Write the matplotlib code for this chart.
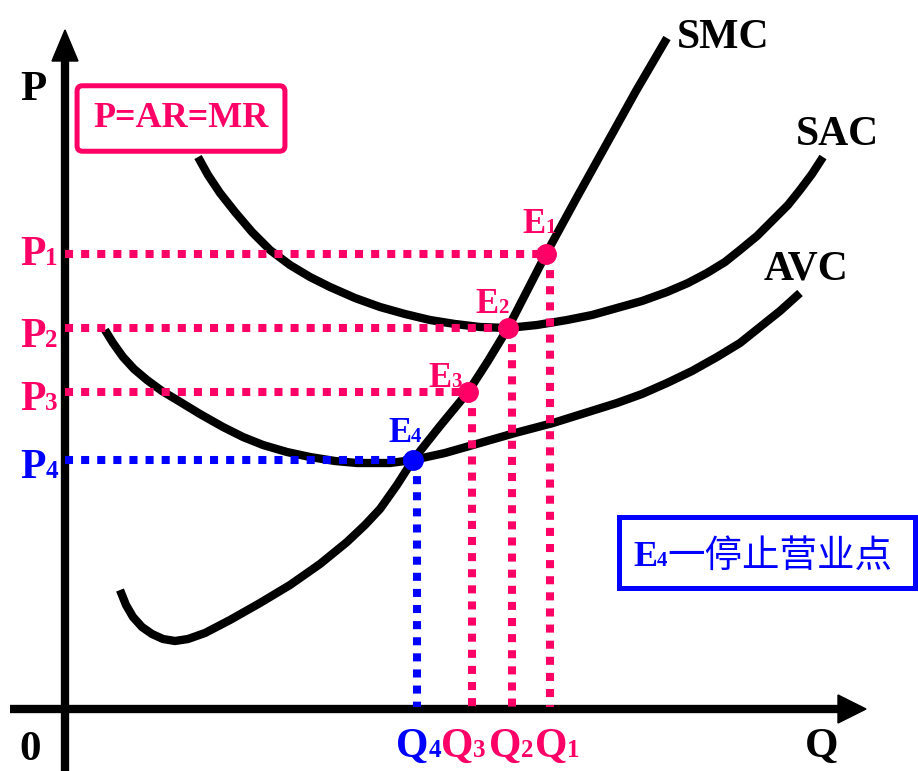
#!/usr/bin/env python3
"""
Short-run cost curves of a competitive firm: SMC / SAC / AVC and the shut-down point
"""

import matplotlib.pyplot as plt
from matplotlib.patches import Rectangle

PINK = '#FF0066'
BLUE = '#0000FF'

# curve points (Q, P)
smc_q = [55, 61, 68, 77, 87, 98, 110, 123, 140, 165, 195, 225, 255, 282, 300, 315,
         332, 348, 375, 403, 423, 443, 462, 481, 511, 541, 571, 602]
smc_p = [119, 104, 92, 82, 75, 70, 68, 70, 76, 89, 106, 124, 145, 167, 184, 200,
         224, 249, 283, 317, 348, 381, 418, 455, 510, 564, 618, 671]

sac_q = [133, 143, 155, 170, 187, 205, 225, 245, 265, 290, 315, 340, 365, 390, 415, 443,
         472, 502, 527, 552, 577, 602, 623, 642, 660, 675, 692, 708, 723, 735, 747, 758]
sac_p = [552, 534, 516, 497, 477, 459, 444, 432, 422, 411, 402, 395, 389, 385, 382, 381,
         384, 389, 394, 401, 408, 417, 426, 436, 447, 459, 473, 489, 504, 519, 535, 552]

avc_q = [40, 48, 58, 69, 82, 97, 112, 135, 158, 178, 198, 222, 245, 270, 292, 325,
         348, 380, 415, 450, 488, 520, 552, 577, 602, 627, 652, 675, 695, 715, 735]
avc_p = [379, 366, 352, 340, 329, 318, 309, 295, 282, 272, 264, 257, 252, 248, 246, 246,
         249, 256, 266, 276, 286, 296, 306, 315, 326, 338, 352, 366, 382, 398, 416]

# equilibrium points E1..E4
e_names = ['1', '2', '3', '4']
e_q = [481, 443, 403, 348]
e_p = [455, 381, 317, 249]
e_colors = [PINK, PINK, PINK, BLUE]


def sub_label(ax, x, y, main, sub, color, size, subsize):
    """Letter with a small index sitting on the same baseline"""
    t = ax.text(x, y, main, color=color, fontsize=size, fontweight='bold',
                ha='left', va='baseline', zorder=6)
    s = ax.annotate(sub, xy=(1, y), xycoords=(t, 'data'), color=color,
                    fontsize=subsize, fontweight='bold', ha='left',
                    va='baseline', zorder=6)
    return s


def main():
    plt.rcParams['font.family'] = ['Liberation Serif', 'Noto Sans CJK SC']

    fig = plt.figure(figsize=(9.18, 7.71), dpi=100)
    ax = fig.add_axes([0, 0, 1, 1])
    ax.set_xlim(-65, 853)
    ax.set_ylim(-62, 709)
    ax.axis('off')

    # axes with arrow heads
    ax.plot([0, 0], [-62, 650], color='black', lw=6, solid_capstyle='butt')
    ax.fill([-13, 13, 0], [648, 648, 679], color='black')
    ax.plot([-55, 775], [0, 0], color='black', lw=6, solid_capstyle='butt')
    ax.fill([773, 773, 801], [14, -14, 0], color='black')

    # cost curves
    for q, p in [(smc_q, smc_p), (sac_q, sac_p), (avc_q, avc_p)]:
        ax.plot(q, p, color='black', lw=6, solid_capstyle='butt',
                solid_joinstyle='round', zorder=3)

    # dotted guide lines and points
    for q, p, c in zip(e_q, e_p, e_colors):
        ax.plot([0, q], [p, p], color=c, lw=5.8, linestyle=(0, (1, 1)),
                dash_capstyle='butt', zorder=4)
        ax.plot([q + 4, q + 4], [p, 2], color=c, lw=5.8, linestyle=(0, (1, 1)),
                dash_capstyle='butt', zorder=4)
        ax.plot(q, p, 'o', color=c, markersize=14, zorder=5)

    # axis labels
    ax.text(-45, 609, 'P', fontsize=31, fontweight='bold', va='baseline')
    ax.text(-35, -51, '0', fontsize=31, fontweight='bold', va='baseline', ha='center')
    ax.text(740, -48, 'Q', fontsize=31, fontweight='bold', va='baseline')

    # P1..P4 on the price axis
    p_base = [444, 362, 299, 231]
    for name, y, c in zip(e_names, p_base, e_colors):
        sub_label(ax, -45, y, 'P', name, c, 30, 18)

    # Q4 Q3 Q2 Q1 under the quantity axis
    q_left = [331, 376, 424, 470]
    for name, x in zip(['4', '3', '2', '1'], q_left):
        c = BLUE if name == '4' else PINK
        sub_label(ax, x, -48, 'Q', name, c, 30, 18)

    # E labels
    e_lab_x = [457, 410, 363, 323]
    e_lab_y = [476, 396, 322, 267]
    for name, x, y, c in zip(e_names, e_lab_x, e_lab_y, e_colors):
        sub_label(ax, x, y, 'E', name, c, 25, 15)

    # curve names
    ax.text(612, 661, 'SMC', fontsize=30, fontweight='bold', va='baseline')
    ax.text(731, 564, 'SAC', fontsize=30, fontweight='bold', va='baseline')
    ax.text(699, 429, 'AVC', fontsize=30, fontweight='bold', va='baseline')

    # price line box
    ax.text(116, 582, 'P=AR=MR', color=PINK, fontsize=26, fontweight='bold',
            ha='center', va='baseline',
            bbox=dict(boxstyle='round,pad=0.45,rounding_size=0.15', fc='white',
                      ec=PINK, lw=3.6))

    # shut-down point box
    ax.add_patch(Rectangle((554, 121), 296, 71, fill=False, ec=BLUE, lw=3.6))
    s = sub_label(ax, 568, 143, 'E', '4', BLUE, 26, 15)
    ax.annotate('一停止营业点', xy=(1, 142), xycoords=(s, 'data'), color=BLUE,
                fontsize=27, family='Noto Sans CJK SC', ha='left', va='baseline')

    fig.savefig('out.png', dpi=100)


if __name__ == "__main__":
    main()
